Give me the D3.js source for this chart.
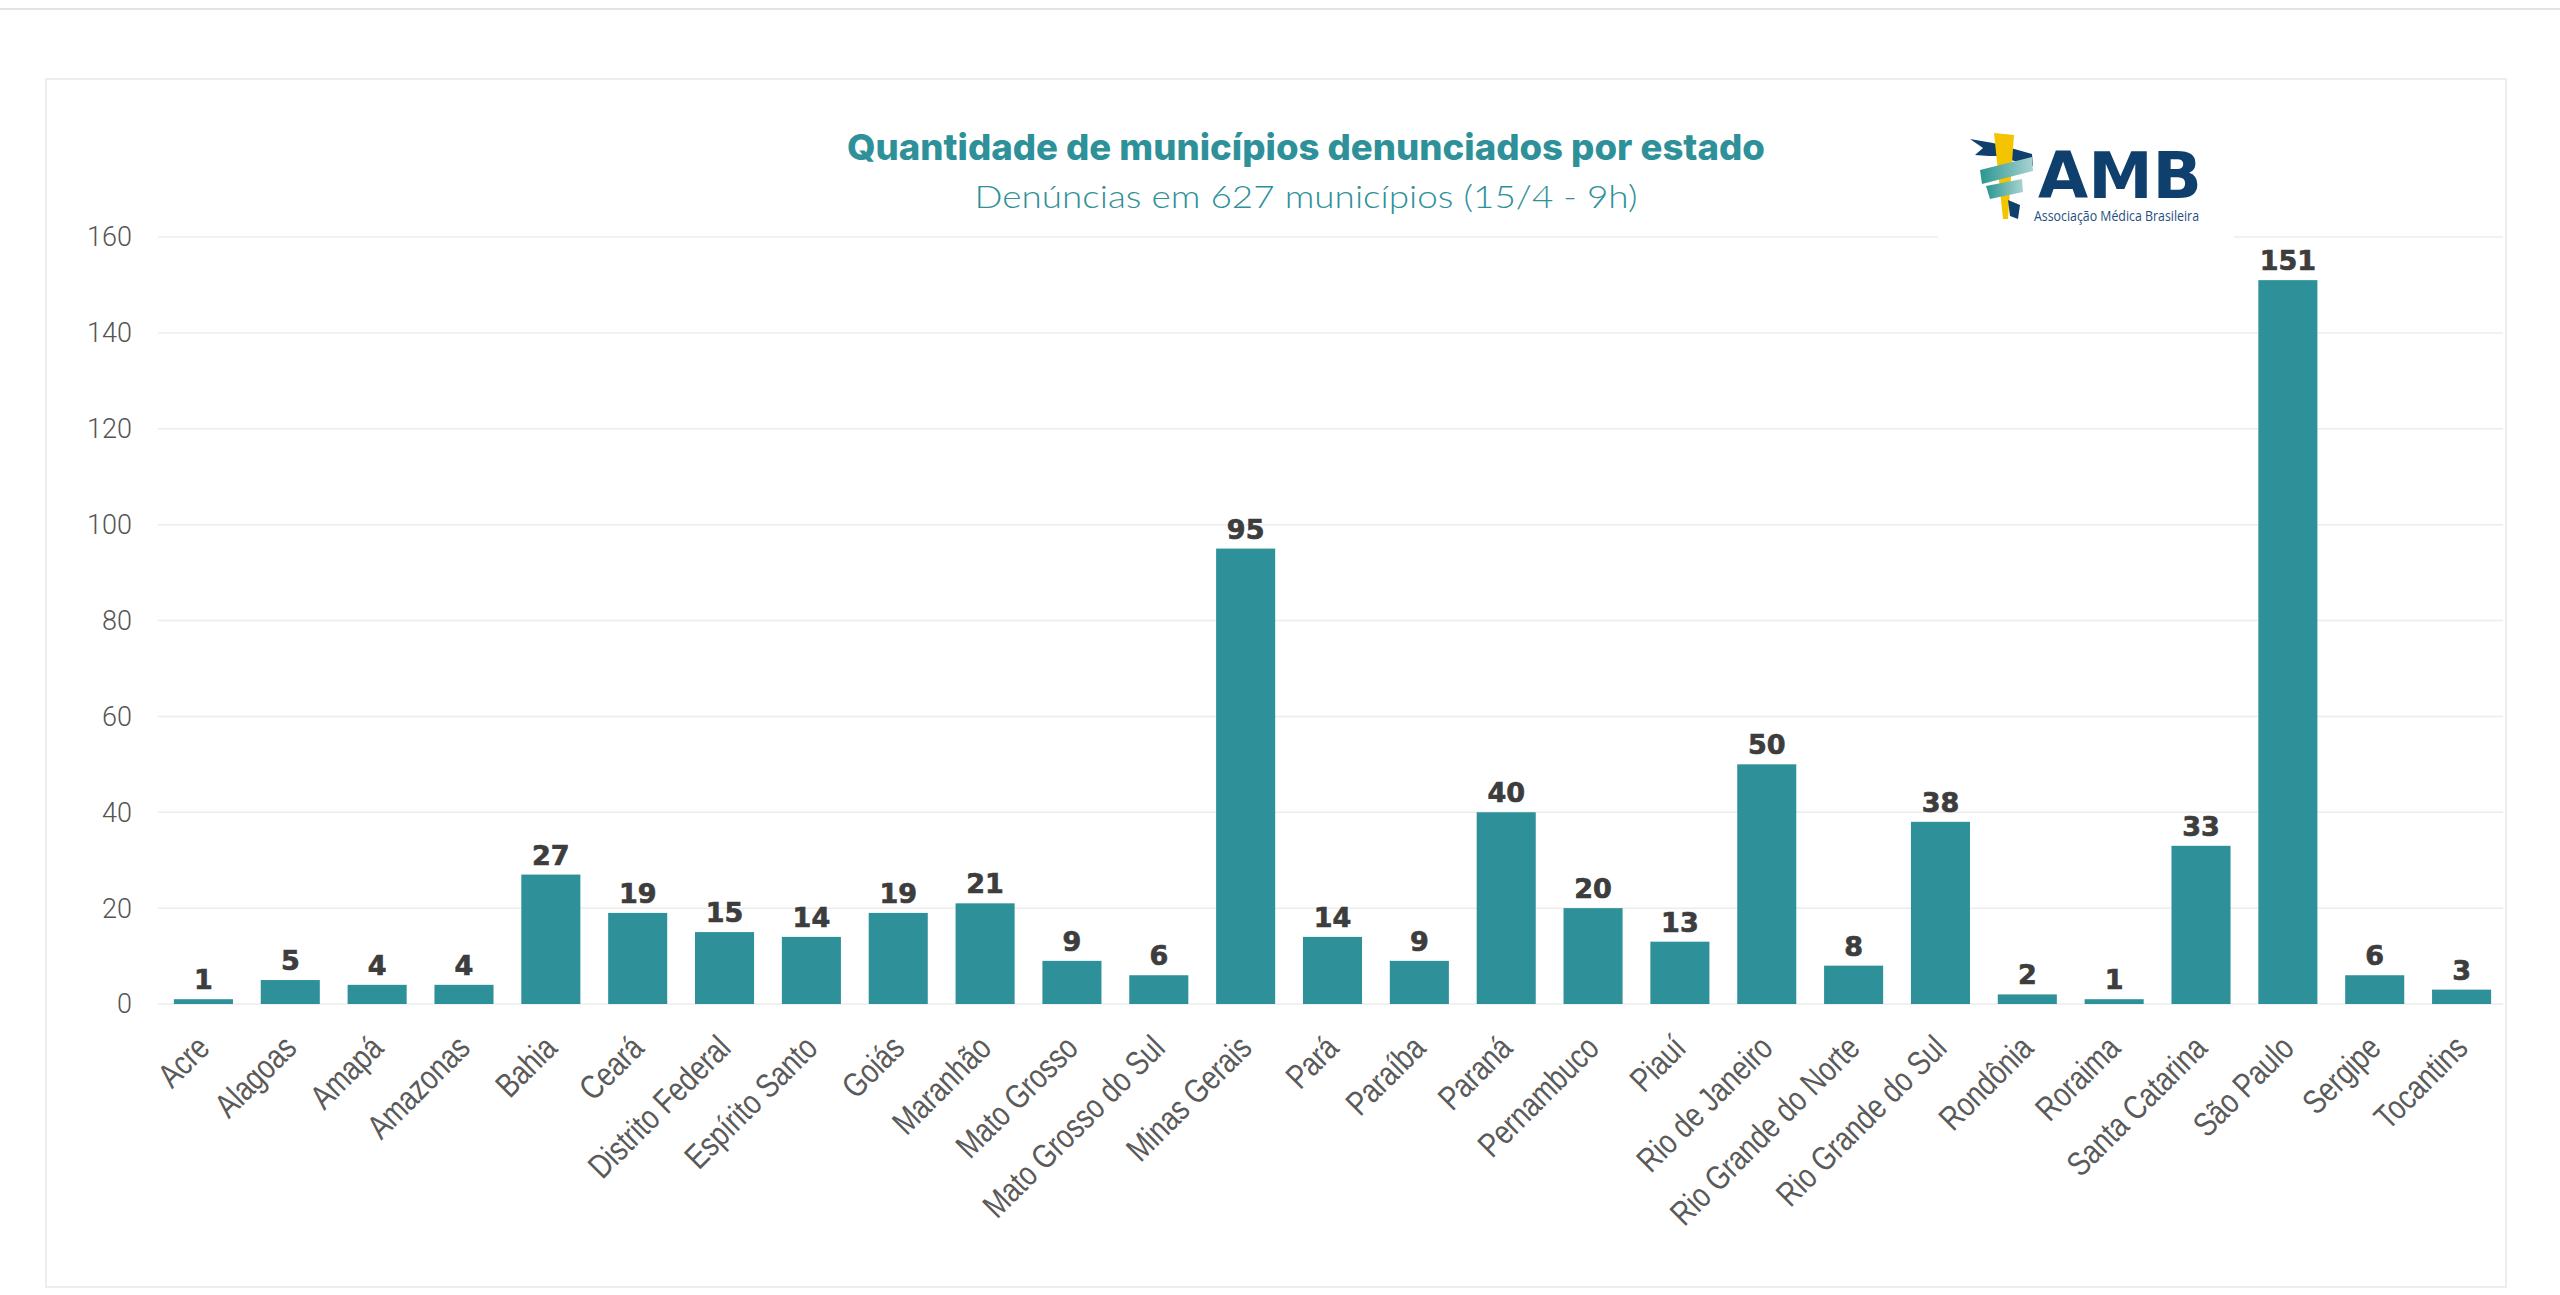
<!DOCTYPE html>
<html>
<head>
    <title>Municípios denunciados por estado</title>
    <style>
        body { margin: 0; background: #fff; }
        .grid line { stroke: #ececec; stroke-width: 1.5px; }
        .ylab { font: 300 27px Roboto, sans-serif; fill: #555; }
        .xlab { font: 34px "Liberation Sans", Arial, sans-serif; fill: #5a5a5a; }
        .val { font: bold 27px "DejaVu Sans", sans-serif; fill: #3d3d3d; stroke: #3d3d3d; stroke-width: 0.7px; }
    </style>
</head>
<body>
    <div id="chart"></div>

    <script src="https://d3js.org/d3.v7.min.js"></script>
    <script>
        // data
        const estados = ["Acre", "Alagoas", "Amapá", "Amazonas", "Bahia", "Ceará", "Distrito Federal",
            "Espírito Santo", "Goiás", "Maranhão", "Mato Grosso", "Mato Grosso do Sul", "Minas Gerais",
            "Pará", "Paraíba", "Paraná", "Pernambuco", "Piauí", "Rio de Janeiro", "Rio Grande do Norte",
            "Rio Grande do Sul", "Rondônia", "Roraima", "Santa Catarina", "São Paulo", "Sergipe", "Tocantins"];
        const municipios = [1, 5, 4, 4, 27, 19, 15, 14, 19, 21, 9, 6, 95, 14, 9, 40, 20, 13, 50, 8, 38, 2, 1, 33, 151, 6, 3];
        const yTicks = [0, 20, 40, 60, 80, 100, 120, 140, 160];
        const titulo = "Quantidade de municípios denunciados por estado";
        const subtitulo = "Denúncias em 627 municípios (15/4 - 9h)";

        const width = 2560, height = 1295;
        const teal = "#2e9199", navy = "#0e3f6d";

        const svg = d3.select("#chart").append("svg")
            .attr("width", width)
            .attr("height", height);

        // ribbon gradient for the logo
        const grad = svg.append("defs").append("linearGradient")
            .attr("id", "rib").attr("x1", "0").attr("x2", "1");
        grad.append("stop").attr("offset", "0").attr("stop-color", "#2a9690");
        grad.append("stop").attr("offset", "1").attr("stop-color", "#a9d3d1");

        // top rule and card frame
        svg.append("line")
            .attr("x1", 0).attr("x2", width).attr("y1", 9).attr("y2", 9)
            .attr("stroke", "#e3e3e3").attr("stroke-width", 2);
        svg.append("rect")
            .attr("x", 46).attr("y", 79).attr("width", 2460).attr("height", 1208)
            .attr("fill", "#fff").attr("stroke", "#e8e8e8").attr("stroke-width", 1.5);

        const x = d3.scaleBand()
            .domain(estados)
            .range([160, 2505])
            .paddingInner(0.32)
            .paddingOuter(0.16);

        const y = d3.scaleLinear()
            .domain([0, 160])
            .range([1004, 237]);

        // gridlines
        svg.append("g").attr("class", "grid")
            .selectAll("line")
            .data(yTicks)
            .enter().append("line")
            .attr("x1", 158).attr("x2", 2503)
            .attr("y1", d => y(d)).attr("y2", d => y(d));

        // y labels
        svg.append("g")
            .selectAll("text")
            .data(yTicks)
            .enter().append("text")
            .attr("class", "ylab")
            .attr("x", 132)
            .attr("y", d => y(d))
            .attr("dy", "0.35em")
            .attr("text-anchor", "end")
            .text(d => d);

        // bars
        svg.append("g")
            .selectAll("rect")
            .data(municipios)
            .enter().append("rect")
            .attr("x", (d, i) => x(estados[i]))
            .attr("y", d => y(d))
            .attr("width", x.bandwidth())
            .attr("height", d => y(0) - y(d))
            .attr("fill", teal);

        // value labels
        svg.append("g")
            .selectAll("text")
            .data(municipios)
            .enter().append("text")
            .attr("class", "val")
            .attr("x", (d, i) => x(estados[i]) + x.bandwidth() / 2)
            .attr("y", d => y(d) - 10)
            .attr("text-anchor", "middle")
            .text(d => d);

        // category labels (narrowed, rotated)
        svg.append("g")
            .selectAll("text")
            .data(estados)
            .enter().append("text")
            .attr("class", "xlab")
            .attr("text-anchor", "end")
            .attr("transform", d => `translate(${x(d) + x.bandwidth() / 2 + 8},1050) rotate(-45) scale(0.8,1)`)
            .text(d => d);

        // logo box (covers the top gridline)
        const logo = svg.append("g");
        logo.append("rect")
            .attr("x", 1938).attr("y", 112).attr("width", 296).attr("height", 128)
            .attr("fill", "#fff");
        // snake head
        logo.append("path")
            .attr("d", "M1970,139 L1993,143 L2032,154 L2033,166 L1996,156 L1989,156 L1975,155 L1983,148 Z")
            .attr("fill", navy);
        // staff
        logo.append("path")
            .attr("d", "M1994,133 L2014,135 L2008,219 L2003,219 Z")
            .attr("fill", "#f5c400");
        // ribbon bands
        logo.append("path")
            .attr("d", "M1980,170 L2032,157 L2033,171 L1982,184 Z")
            .attr("fill", "url(#rib)");
        logo.append("path")
            .attr("d", "M1986,186 L2022,179 L2023,192 L1990,199 Z")
            .attr("fill", "url(#rib)");
        // tail
        logo.append("path")
            .attr("d", "M2008,200 L2020,205 L2018,219 L2010,216 Z")
            .attr("fill", navy);
        logo.append("text")
            .attr("x", 2038).attr("y", 198)
            .attr("textLength", 164).attr("lengthAdjust", "spacingAndGlyphs")
            .style("font", "bold 64px 'DejaVu Sans', sans-serif")
            .attr("fill", navy)
            .text("AMB");
        logo.append("text")
            .attr("x", 2034).attr("y", 221)
            .attr("textLength", 165).attr("lengthAdjust", "spacingAndGlyphs")
            .style("font", "15px 'Open Sans', sans-serif")
            .attr("fill", "#1f4f80")
            .text("Associação Médica Brasileira");

        // titles
        svg.append("text")
            .attr("x", 1306).attr("y", 160)
            .attr("text-anchor", "middle")
            .attr("textLength", 918).attr("lengthAdjust", "spacingAndGlyphs")
            .style("font", "800 36px Inter, sans-serif")
            .attr("fill", teal)
            .text(titulo);
        svg.append("text")
            .attr("x", 1306).attr("y", 208)
            .attr("text-anchor", "middle")
            .attr("textLength", 663).attr("lengthAdjust", "spacingAndGlyphs")
            .style("font", "300 32px Lato, sans-serif")
            .attr("fill", teal)
            .text(subtitulo);
    </script>
</body>
</html>
